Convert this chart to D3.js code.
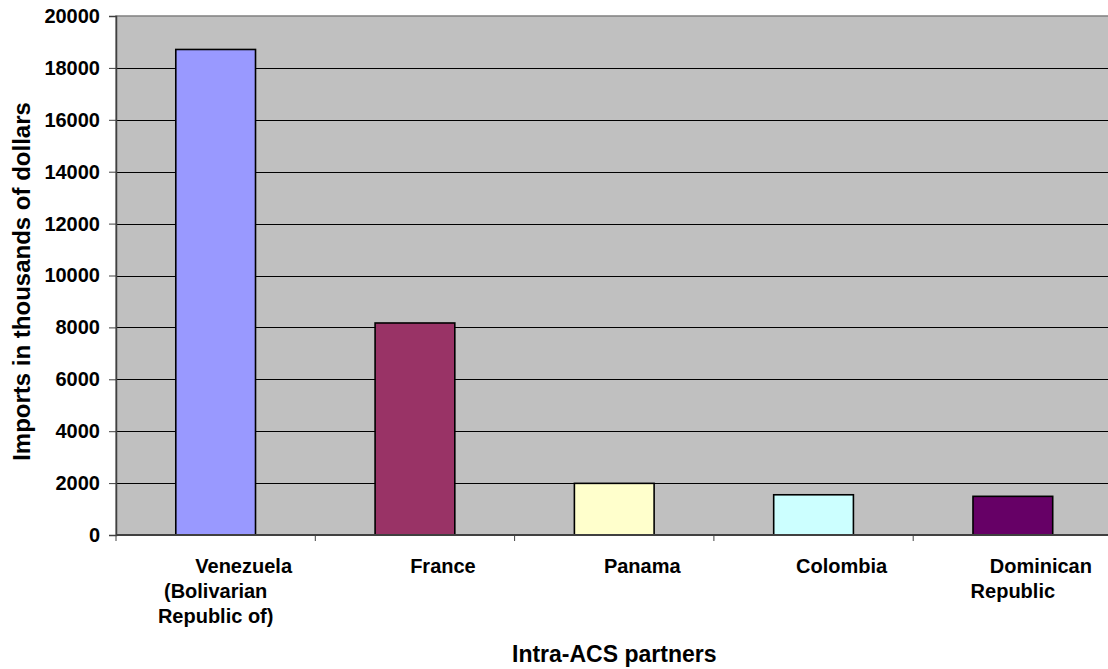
<!DOCTYPE html>
<html>
<head>
<meta charset="utf-8">
<script src="https://cdn.jsdelivr.net/npm/d3@7"></script>
<style>
  html, body { margin: 0; padding: 0; background: #fff; }
  svg { display: block; }
  text { font-family: "Liberation Sans", Arial, sans-serif; font-weight: bold; fill: #000; }
</style>
</head>
<body>
<svg id="chart" width="1108" height="669"></svg>
<script>
// Imports from intra-ACS partners, thousands of US dollars
const partners = ["Venezuela (Bolivarian Republic of)", "France", "Panama", "Colombia", "Dominican Republic"];
const partnerLabelLines = [
  ["Venezuela", "(Bolivarian", "Republic of)"],
  ["France"],
  ["Panama"],
  ["Colombia"],
  ["Dominican", "Republic"]
];
const imports = [18710, 8170, 1990, 1550, 1490];
const barColors = ["#9999FF", "#993366", "#FFFFCC", "#CCFFFF", "#660066"];
const yTicks = [0, 2000, 4000, 6000, 8000, 10000, 12000, 14000, 16000, 18000, 20000];

const svg = d3.select("#chart");
const plot = { left: 116, right: 1112.5, top: 16, bottom: 535 };

const x = d3.scaleBand()
  .domain(partners)
  .range([plot.left, plot.right])
  .paddingInner(0.6)
  .paddingOuter(0.3);

const y = d3.scaleLinear()
  .domain([0, 20000])
  .range([plot.bottom, plot.top]);

// plot background
svg.append("rect")
  .attr("x", plot.left).attr("y", plot.top)
  .attr("width", plot.right - plot.left).attr("height", plot.bottom - plot.top)
  .attr("fill", "#C0C0C0")
  .attr("stroke", "#808080").attr("stroke-width", 1.5);

// horizontal gridlines
svg.append("g")
  .selectAll("line")
  .data(yTicks.filter(d => d > 0 && d < 20000))
  .join("line")
  .attr("x1", plot.left).attr("x2", plot.right)
  .attr("y1", d => Math.round(y(d)) + 0.5).attr("y2", d => Math.round(y(d)) + 0.5)
  .attr("stroke", "#000").attr("stroke-width", 1);

// bars
svg.append("g")
  .selectAll("rect")
  .data(partners)
  .join("rect")
  .attr("x", d => x(d))
  .attr("y", (d, i) => y(imports[i]))
  .attr("width", x.bandwidth())
  .attr("height", (d, i) => y(0) - y(imports[i]))
  .attr("fill", (d, i) => barColors[i])
  .attr("stroke", "#000").attr("stroke-width", 1.6);

// y axis
const yAxis = svg.append("g")
  .attr("transform", `translate(${plot.left},0)`)
  .call(d3.axisLeft(y).tickValues(yTicks).tickSize(7).tickPadding(9).tickFormat(d3.format("d")));
yAxis.select(".domain").attr("stroke", "#404040").attr("stroke-width", 1.5);
yAxis.selectAll(".tick line").attr("stroke", "#404040");
yAxis.selectAll(".tick text")
  .attr("font-family", "Liberation Sans, Arial, sans-serif")
  .attr("font-weight", "bold")
  .attr("font-size", 20)
  .attr("fill", "#000");

// x axis baseline and category separators
const step = x.step();
const sepPositions = d3.range(partners.length + 1).map(i => plot.left + i * step);
svg.append("line")
  .attr("x1", plot.left).attr("x2", plot.right)
  .attr("y1", plot.bottom).attr("y2", plot.bottom)
  .attr("stroke", "#404040").attr("stroke-width", 2);
svg.append("g")
  .selectAll("line")
  .data(sepPositions)
  .join("line")
  .attr("x1", d => d).attr("x2", d => d)
  .attr("y1", plot.bottom).attr("y2", plot.bottom + 6)
  .attr("stroke", "#404040").attr("stroke-width", 1);

// category labels
const labels = svg.append("g")
  .selectAll("text")
  .data(partners)
  .join("text")
  .attr("font-size", 20)
  .attr("text-anchor", "middle");
labels.each(function(d, i) {
  const cx = x(d) + x.bandwidth() / 2;
  d3.select(this).selectAll("tspan")
    .data(partnerLabelLines[i])
    .join("tspan")
    .attr("x", (t, j) => j === 0 ? cx + 28 : cx)
    .attr("y", (t, j) => plot.bottom + 38 + j * 25)
    .text(t => t);
});

// axis titles
svg.append("text")
  .attr("x", (plot.left + plot.right) / 2)
  .attr("y", 662)
  .attr("text-anchor", "middle")
  .attr("font-size", 23)
  .text("Intra-ACS partners");

svg.append("text")
  .attr("transform", `translate(30,${(plot.top + plot.bottom) / 2 + 6}) rotate(-90)`)
  .attr("text-anchor", "middle")
  .attr("font-size", 24)
  .text("Imports in thousands of dollars");
</script>
</body>
</html>
